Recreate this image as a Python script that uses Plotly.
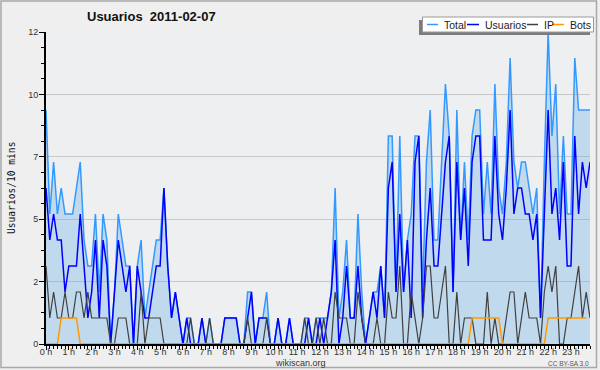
import plotly.graph_objects as go

# 10-minute slots for 2011-02-07 (144 slots)
hours = [f"{h} h" for h in range(24)]

usuarios = [6,4,5,4,4,2,3,3,3,5,3,1,2,4,1,4,3,0,2,4,3,2,3,0,3,2,1,1,2,
            3,3,6,3,1,2,1,0,1,0,0,0,1,0,0,0,0,0,1,1,1,1,0,0,1,2,0,1,
            1,1,0,0,1,0,0,1,0,0,0,0,1,0,0,1,0,1,2,4,0,1,3,1,1,3,1,0,1,2,
            1,3,1,6,7,2,5,2,4,1,7,8,1,4,6,3,3,5,7,8,2,7,4,6,3,7,8,8,4,
            4,4,8,5,4,6,9,5,6,6,5,5,4,5,1,5,9,5,6,4,7,3,3,8,5,7,6,7]
ip = [3,1,2,1,1,2,1,1,2,2,1,2,1,1,1,1,1,0,0,1,1,1,0,0,0,2,0,1,1,
      1,1,0,0,0,0,0,0,0,1,0,0,0,0,1,0,0,0,0,0,0,0,0,0,1,0,0,0,
      0,1,0,0,0,0,0,0,0,0,0,1,0,0,1,0,1,0,0,2,1,1,1,0,0,2,1,0,0,0,
      1,0,0,2,1,1,3,0,0,2,1,0,1,3,3,1,1,2,3,0,0,2,0,1,1,1,0,0,0,
      2,0,1,0,0,1,2,2,0,1,2,1,1,1,0,2,3,2,3,0,0,1,1,2,3,1,2,1]
bots = [0,0,0,0,1,1,1,1,1,0,0,0,0,0,0,0,0,0,0,0,0,0,0,0,0,0,0,0,0,
        0,0,0,0,0,0,0,0,0,0,0,0,0,0,0,0,0,0,0,0,0,0,0,0,0,0,0,0,
        0,0,0,0,0,0,0,0,0,0,0,0,0,0,0,0,0,0,0,0,0,0,0,0,0,0,0,0,0,0,
        0,0,0,0,0,0,0,0,0,0,0,0,0,0,0,0,0,0,0,0,0,0,0,0,0,1,1,1,
        1,1,1,1,1,0,0,0,0,0,0,0,0,0,0,0,0,1,1,1,1,1,1,1,1,1,1,1]
total = [9,5,7,5,6,5,5,5,6,7,4,3,3,5,2,5,4,0,2,5,4,3,3,0,3,4,1,2,3,
         4,4,6,3,1,2,1,0,1,1,0,0,1,0,1,0,0,0,1,1,1,1,0,0,2,2,0,1,
         1,2,0,0,1,0,0,1,0,0,0,1,1,0,1,1,1,1,2,6,1,2,4,1,1,5,2,0,1,2,
         2,3,1,8,8,2,8,2,4,5,8,8,2,7,9,4,4,7,10,8,2,9,4,7,4,8,9,9,5,
         7,5,10,6,5,7,11,7,6,7,7,6,5,6,1,7,12,8,10,5,8,5,5,11,9,9,9,9]

x = list(range(len(total)))

ytick_vals = [0, 2.4, 4.8, 7.2, 9.6, 12]
ytick_text = ["0", "2", "5", "7", "10", "12"]

series_names = ["Total", "Usuarios", "IP", "Bots"]
series_colors = ["#3399ff", "#0000ff", "#404040", "#ff9900"]

fig = go.Figure()
fig.add_trace(go.Scatter(x=x, y=total, mode="lines", name="Total",
                         line=dict(color=series_colors[0], width=1.5),
                         fill="tozeroy", fillcolor="rgba(100,170,230,0.32)"))
fig.add_trace(go.Scatter(x=x, y=usuarios, mode="lines", name="Usuarios",
                         line=dict(color=series_colors[1], width=1.5)))
fig.add_trace(go.Scatter(x=x, y=ip, mode="lines", name="IP",
                         line=dict(color=series_colors[2], width=1.2)))
fig.add_trace(go.Scatter(x=x, y=bots, mode="lines", name="Bots",
                         line=dict(color=series_colors[3], width=1.5)))

L, T = 46, 32
W, H = 544, 312
def px(v):
    return (v - L) / W
def py(v):
    return (T + H - v) / H

shapes = [
    # image frame
    dict(type="rect", xref="paper", yref="paper", x0=px(1), x1=px(596.5), y0=py(367.5), y1=py(1),
         line=dict(color="#a8a8a8", width=1.5), fillcolor="rgba(0,0,0,0)", layer="below"),
    # legend shadow
    dict(type="rect", xref="paper", yref="paper", x0=px(419), x1=px(590), y0=py(35), y1=py(20),
         line=dict(width=0), fillcolor="#7c7c7c"),
    # legend box
    dict(type="rect", xref="paper", yref="paper", x0=px(422.5), x1=px(593.5), y0=py(32), y1=py(17),
         line=dict(color="#9a9a9a", width=1), fillcolor="#ffffff"),
]
annotations = []
leg_line_x = [(427, 438), (467, 479), (527, 538), (552, 564)]
leg_text_x = [442, 483, 542, 568]
ly = py(24.5)
for name, col, (a, b), tx in zip(series_names, series_colors, leg_line_x, leg_text_x):
    shapes.append(dict(type="line", xref="paper", yref="paper", x0=px(a), x1=px(b), y0=ly, y1=ly,
                       line=dict(color=col, width=1.5)))
    annotations.append(dict(text=name, xref="paper", yref="paper", x=px(tx), y=ly,
                            xanchor="left", yanchor="middle", showarrow=False,
                            font=dict(family="Liberation Sans", size=10.5, color="#222222")))

annotations += [
    dict(text="<b>Usuarios\u00a0\u00a02011-02-07</b>", xref="paper", yref="paper", x=px(151), y=py(16.5),
         xanchor="center", yanchor="middle", showarrow=False,
         font=dict(family="Liberation Sans", size=13, color="#111111")),
    dict(text="Usuarios/10 mins", xref="paper", yref="paper", x=px(11), y=0.5, textangle=-90,
         xanchor="center", yanchor="middle", showarrow=False,
         font=dict(family="DejaVu Sans Mono", size=9.6, color="#111111")),
    dict(text="wikiscan.org", xref="paper", yref="paper", x=px(300.5), y=py(362.5),
         xanchor="center", yanchor="middle", showarrow=False,
         font=dict(family="Liberation Sans", size=9, color="#333333")),
    dict(text="CC BY-SA 3.0", xref="paper", yref="paper", x=px(591), y=py(363),
         xanchor="right", yanchor="middle", showarrow=False,
         font=dict(family="Liberation Sans", size=6.5, color="#555555")),
]

fig.update_layout(
    width=600, height=370,
    margin=dict(l=L, r=600 - L - W, t=T, b=370 - T - H, pad=0),
    paper_bgcolor="#efefef", plot_bgcolor="#eeeff1",
    showlegend=False,
    font=dict(family="Liberation Sans", size=9, color="#333333"),
    shapes=shapes, annotations=annotations,
    xaxis=dict(range=[0, 143], tickvals=[6 * h for h in range(24)], ticktext=hours,
               ticks="outside", ticklen=4, tickcolor="#000", tickwidth=1,
               ticklabelstandoff=-6,
               showline=True, linecolor="#000", linewidth=2, showgrid=False, zeroline=False,
               tickfont=dict(size=9, color="#333333"),
               minor=dict(tickmode="linear", tick0=0, dtick=1, ticks="outside", ticklen=3,
                          tickcolor="#000", tickwidth=1, showgrid=False)),
    yaxis=dict(range=[0, 12], tickvals=ytick_vals, ticktext=ytick_text,
               ticks="outside", ticklen=5, tickcolor="#000", tickwidth=1,
               ticklabelstandoff=-1,
               showline=True, linecolor="#000", linewidth=2, zeroline=False,
               showgrid=True, gridcolor="#c8c8c8", gridwidth=1,
               tickfont=dict(size=9, color="#333333"),
               minor=dict(tickmode="linear", tick0=0, dtick=0.6, ticks="outside", ticklen=3,
                          tickcolor="#000", tickwidth=1, showgrid=False)),
)

fig.write_html("out.html", config={"displayModeBar": False},
               post_script="document.body.style.margin='0';document.body.style.padding='0';")
